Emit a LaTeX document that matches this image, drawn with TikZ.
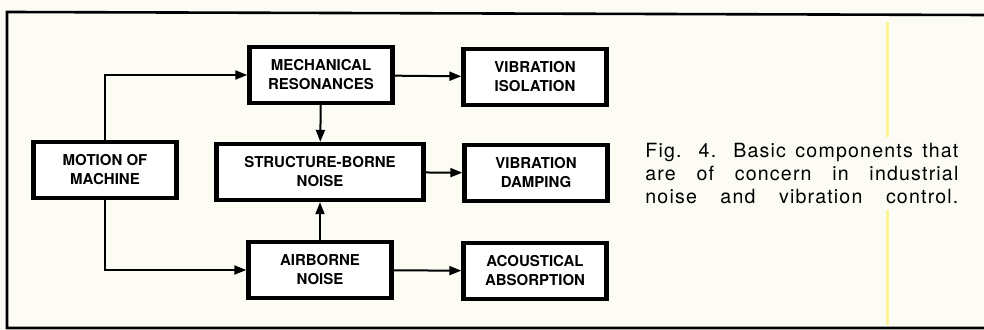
\documentclass[tikz,border=0pt]{standalone}
\usepackage{fontspec}
\setmainfont{TeX Gyre Heros}
\newfontfamily\capfont[LetterSpace=6]{TeX Gyre Heros}
\usetikzlibrary{arrows.meta}
\definecolor{paper}{RGB}{252,252,245}
\definecolor{crease}{RGB}{251,244,150}
\newcommand{\capline}[1]{\makebox[156.5pt][s]{#1}}

\begin{document}
\begin{tikzpicture}[
        x=0.5pt, y=-0.5pt,
        box/.style={draw, line width=2.2pt, fill=white, minimum height=28pt,
            minimum width=#1, inner sep=1pt, align=center,
            font=\fontsize{7.5}{9.5}\selectfont\bfseries},
        box/.default=71.5pt,
        arr/.style={-{Triangle[length=6pt, width=4.5pt]}, line width=1pt},
    ]

    % page and frame
    \fill[paper] (0,0) rectangle (984,330);
    \useasboundingbox (0,0) rectangle (984,330);
    \draw[crease, line width=1.5pt] (887,22) -- (887,137);
    \draw[crease, line width=1.5pt] (887,210) -- (887,325);
    \draw[line width=1.3pt] (984,15) -- (7,12) -- (7,328) -- (984,328);

    % blocks
    \node[box]         (motion)    at (105, 170) {MOTION OF\\MACHINE};
    \node[box]         (mech)      at (321, 75)  {MECHANICAL\\RESONANCES};
    \node[box=103.5pt] (structure) at (320, 172) {STRUCTURE-BORNE\\NOISE};
    \node[box]         (airborne)  at (320, 270) {AIRBORNE\\NOISE};
    \node[box]         (isolation) at (535, 77)  {VIBRATION\\ISOLATION};
    \node[box]         (damping)   at (536, 173) {VIBRATION\\DAMPING};
    \node[box]         (absorb)    at (535, 271) {ACOUSTICAL\\ABSORPTION};

    % connections
    \draw[arr] (motion.north) |- (mech.west);
    \draw[arr] (motion.south) |- (airborne.west);
    \draw[arr] (mech) -- (structure);
    \draw[arr] (airborne) -- (structure);
    \draw[arr] (mech) -- (isolation);
    \draw[arr] (structure) -- (damping);
    \draw[arr] (airborne) -- (absorb);

    % caption
    \node[anchor=west, inner sep=0pt, align=left,
        font=\capfont\fontsize{9.8}{11.5}\selectfont] (caption) at (645, 174)
        {\capline{Fig. 4. Basic components that}\\
         \capline{are of concern in industrial}\\
         \capline{noise and vibration control.}};

\end{tikzpicture}
\end{document}
